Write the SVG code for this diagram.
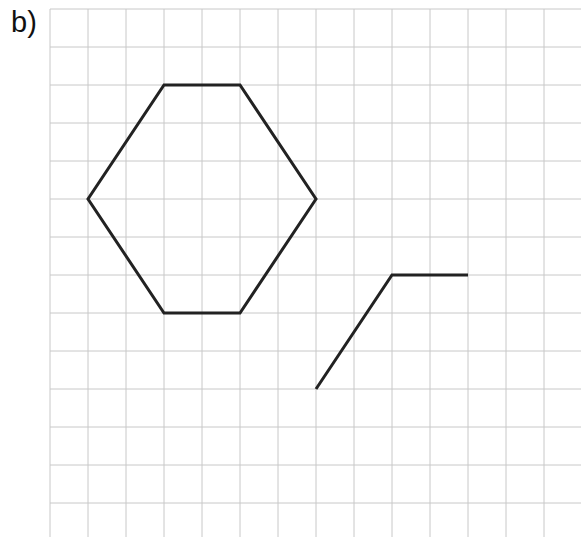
<svg xmlns="http://www.w3.org/2000/svg" width="581" height="537" viewBox="0 0 581 537">
<style>
.grid line{stroke:#c8c8c8;stroke-width:1}
.shape{fill:none;stroke:#222;stroke-width:3;stroke-linejoin:miter}
.lbl{font-family:"Liberation Sans",Arial,sans-serif;font-size:29px;fill:#111}
</style>
<rect width="581" height="537" fill="#fff"/>
<g class="grid" id="grid">
<line x1="50" y1="9" x2="50" y2="537"/>
<line x1="88" y1="9" x2="88" y2="537"/>
<line x1="126" y1="9" x2="126" y2="537"/>
<line x1="164" y1="9" x2="164" y2="537"/>
<line x1="202" y1="9" x2="202" y2="537"/>
<line x1="240" y1="9" x2="240" y2="537"/>
<line x1="278" y1="9" x2="278" y2="537"/>
<line x1="316" y1="9" x2="316" y2="537"/>
<line x1="354" y1="9" x2="354" y2="537"/>
<line x1="392" y1="9" x2="392" y2="537"/>
<line x1="430" y1="9" x2="430" y2="537"/>
<line x1="468" y1="9" x2="468" y2="537"/>
<line x1="506" y1="9" x2="506" y2="537"/>
<line x1="544" y1="9" x2="544" y2="537"/>
<line x1="50" y1="9" x2="581" y2="9"/>
<line x1="50" y1="47" x2="581" y2="47"/>
<line x1="50" y1="85" x2="581" y2="85"/>
<line x1="50" y1="123" x2="581" y2="123"/>
<line x1="50" y1="161" x2="581" y2="161"/>
<line x1="50" y1="199" x2="581" y2="199"/>
<line x1="50" y1="237" x2="581" y2="237"/>
<line x1="50" y1="275" x2="581" y2="275"/>
<line x1="50" y1="313" x2="581" y2="313"/>
<line x1="50" y1="351" x2="581" y2="351"/>
<line x1="50" y1="389" x2="581" y2="389"/>
<line x1="50" y1="427" x2="581" y2="427"/>
<line x1="50" y1="465" x2="581" y2="465"/>
<line x1="50" y1="503" x2="581" y2="503"/>
</g>
<g id="hexagon">
<polygon class="shape" points="164,85 240,85 316,199 240,313 164,313 88,199"/>
</g>
<g id="partial">
<polyline class="shape" points="316,389 392,275 468,275"/>
</g>
<text class="lbl" x="11" y="32">b)</text>
</svg>
